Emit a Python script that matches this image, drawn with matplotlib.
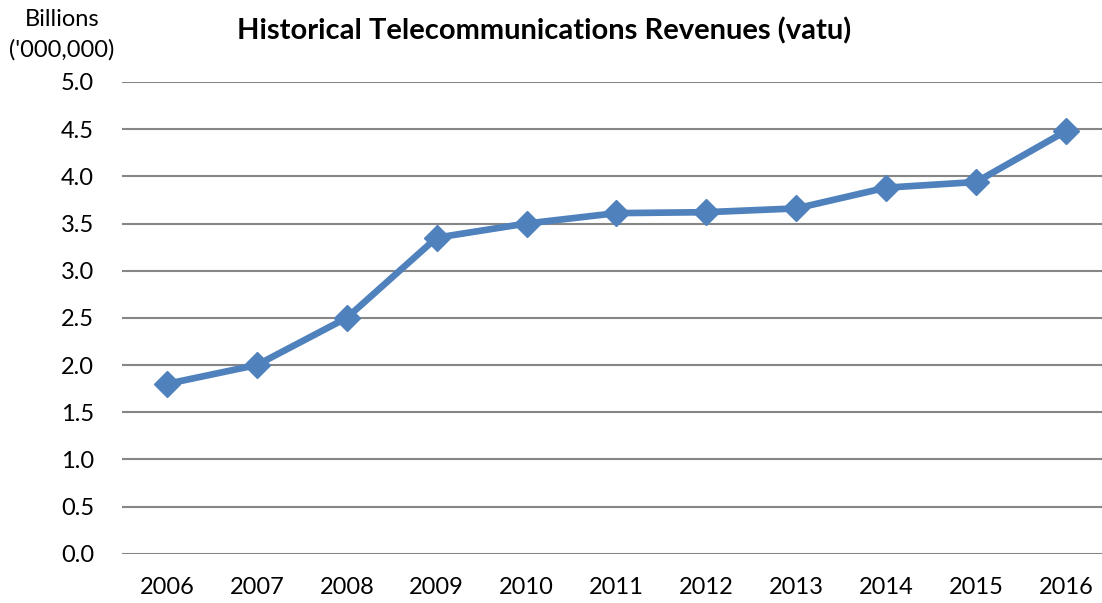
import matplotlib
matplotlib.use('Agg')
import matplotlib.pyplot as plt
import numpy as np

# data
years = ['2006', '2007', '2008', '2009', '2010', '2011', '2012', '2013', '2014', '2015', '2016']
revenues = [1.80, 2.00, 2.50, 3.35, 3.50, 3.61, 3.62, 3.66, 3.88, 3.94, 4.48]
y_ticks = [0.0, 0.5, 1.0, 1.5, 2.0, 2.5, 3.0, 3.5, 4.0, 4.5, 5.0]

plt.rcParams['font.family'] = ['Lato', 'DejaVu Sans']

fig = plt.figure(figsize=(11.02, 6.03), dpi=100)
ax = fig.add_axes([122 / 1102, 1 - 553.7 / 603, 1 - 122 / 1102, (553.7 - 82) / 603])

x = np.arange(len(years))
ax.plot(x, revenues, color='#4F81BD', linewidth=4.8, marker='D', markersize=13,
        markerfacecolor='#4F81BD', markeredgecolor='#4F81BD', zorder=3, clip_on=False)

ax.set_xlim(-0.5, 10.4)
ax.set_ylim(0, 5.0)
ax.set_yticks(y_ticks)
ax.set_yticklabels([f'{v:.1f}' for v in y_ticks])
ax.set_xticks(x)
ax.set_xticklabels(years)
ax.tick_params(axis='both', length=0, labelsize=17, colors='black')
ax.tick_params(axis='y', pad=20)
ax.tick_params(axis='x', pad=17)

ax.grid(axis='y', color='#868686', linewidth=1.5)
ax.set_axisbelow(True)
for s in ax.spines.values():
    s.set_visible(False)

fig.text(62 / 1102, 1 - 19 / 603, 'Billions', ha='center', va='center', fontsize=17)
fig.text(62 / 1102, 1 - 50 / 603, "('000,000)", ha='center', va='center', fontsize=17)
fig.text(544 / 1102, 1 - 31 / 603, 'Historical Telecommunications Revenues (vatu)',
         ha='center', va='center', fontsize=21, fontweight='bold')

plt.savefig('out.png', dpi=100)
plt.close()
